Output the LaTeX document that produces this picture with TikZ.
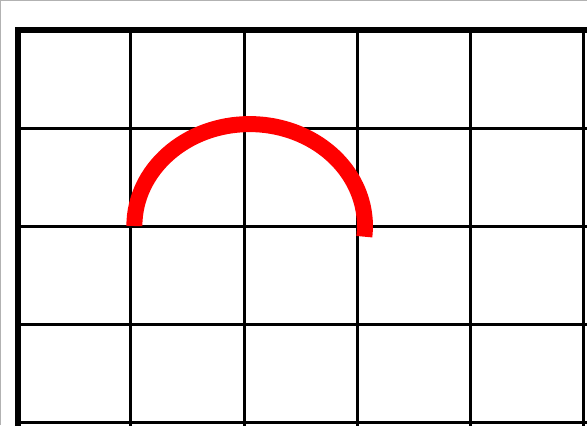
\documentclass[tikz,border=0pt]{standalone}
\begin{document}
\begin{tikzpicture}[x=56.5pt, y=49pt]
        \useasboundingbox[fill=white] (-0.159, -0.031) rectangle (5.035, 4.306);
        \draw[gray!60, line width=0.6pt] (-0.159, 4.300) -- (5.035, 4.300);
        \draw[gray!60, line width=0.6pt] (-0.153, -0.031) -- (-0.153, 4.306);

        \foreach \i in {1, 2, 3, 4, 5} {
            \draw[line width=1.5pt] (\i, -0.1) -- (\i, 4);
        }
        \foreach \j in {0, 1, 2, 3} {
            \draw[line width=1.5pt] (0, \j) -- (5.1, \j);
        }
        \draw[line width=3pt] (0, -0.1) -- (0, 4) -- (5.1, 4);

        \coordinate (S) at (1.03, 2);
        \draw[red, line width=8pt] (S) arc[start angle=180, end angle=-6, x radius=1.02, y radius=1.04];
    \end{tikzpicture}
\end{document}
